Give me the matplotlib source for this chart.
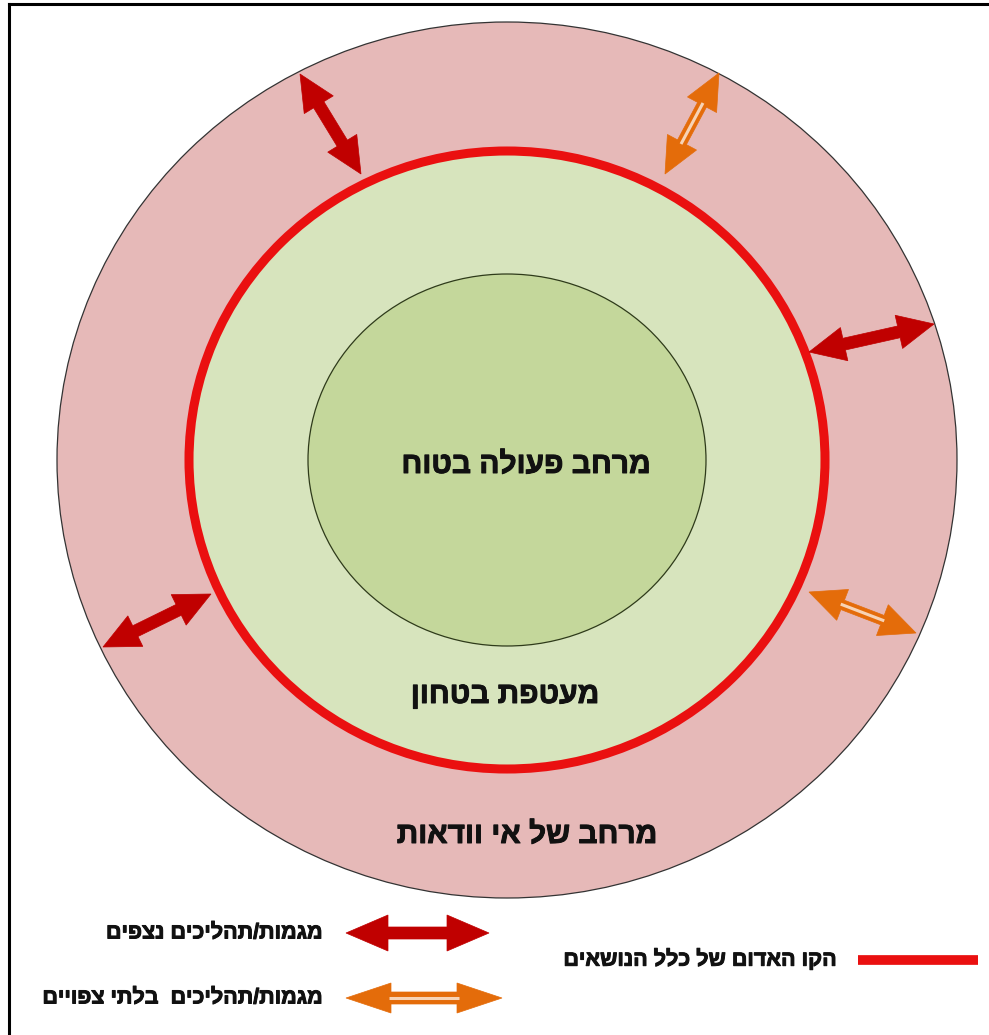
import numpy as np
import matplotlib.pyplot as plt
import matplotlib.patheffects as pe
from matplotlib.patches import Ellipse, Polygon

# geometry in image pixels (x right, y down)
center = (507, 460)
outer_radii = (450, 438)
red_radii = (318, 309)
inner_radii = (199, 186)

# double-headed arrows: (start, end)
observed_arrows = [((300, 74), (361, 174)),
                   ((934, 324), (809, 352)),
                   ((103, 647), (211, 594))]
unexpected_arrows = [((719, 73), (665, 174)),
                     ((809, 592), (916, 633))]

zone_labels = ["מרחב פעולה בטוח", "מעטפת בטחון", "מרחב של אי וודאות"]
zone_label_pos = [(526, 465), (505, 695), (527, 835)]

legend_labels = ["מגמות/תהליכים נצפים", "מגמות/תהליכים  בלתי צפויים",
                 "הקו האדום של כלל הנושאים"]

PINK = "#E6B9B8"
LIGHT_GREEN = "#D7E4BD"
GREEN = "#C4D79B"
RED_LINE = "#EA1010"
DARK_RED = "#C00000"
ORANGE = "#E46C0A"
FONT = ["Liberation Sans", "DejaVu Sans"]
BOLDER = [pe.withStroke(linewidth=0.7, foreground="#111111")]


def rtl(s):
    # matplotlib has no bidi layout, so give it the visual order
    return s[::-1]


def arrow_poly(p0, p1, w, hw, hl):
    p0 = np.array(p0, float)
    p1 = np.array(p1, float)
    u = (p1 - p0) / np.linalg.norm(p1 - p0)
    n = np.array([-u[1], u[0]])
    a = p0 + u * hl
    b = p1 - u * hl
    return [p0, a + n * hw / 2, a + n * w / 2, b + n * w / 2, b + n * hw / 2,
            p1, b - n * hw / 2, b - n * w / 2, a - n * w / 2, a - n * hw / 2]


def draw_arrow(ax, p0, p1, kind, w=12, hw=34, hl=36):
    col = DARK_RED if kind == "observed" else ORANGE
    ax.add_patch(Polygon(arrow_poly(p0, p1, w, hw, hl), closed=True,
                         facecolor=col, edgecolor=col, lw=0.5, zorder=5))
    if kind != "observed":
        p0 = np.array(p0, float)
        p1 = np.array(p1, float)
        u = (p1 - p0) / np.linalg.norm(p1 - p0)
        a = p0 + u * (hl - 2)
        b = p1 - u * (hl - 2)
        ax.plot([a[0], b[0]], [a[1], b[1]], color="#F7D3B5", lw=2.2,
                solid_capstyle="butt", zorder=6)


fig = plt.figure(figsize=(9.89, 10.35), dpi=100)
ax = fig.add_axes([0, 0, 1, 1])
ax.set_xlim(0, 989)
ax.set_ylim(1035, 0)
ax.set_aspect("equal")
ax.axis("off")

# frame (image is cropped on the right and bottom)
ax.plot([9, 989], [4, 4], color="black", lw=2.2)
ax.plot([9, 9], [4, 1035], color="black", lw=2.2)

ax.add_patch(Ellipse(center, 2 * outer_radii[0], 2 * outer_radii[1],
                     facecolor=PINK, edgecolor="#333333", lw=0.9, zorder=1))
ax.add_patch(Ellipse(center, 2 * red_radii[0], 2 * red_radii[1],
                     facecolor=LIGHT_GREEN, edgecolor=RED_LINE, lw=6.5, zorder=2))
ax.add_patch(Ellipse(center, 2 * inner_radii[0], 2 * inner_radii[1],
                     facecolor=GREEN, edgecolor="#2E3A1A", lw=0.9, zorder=3))

for p0, p1 in observed_arrows:
    draw_arrow(ax, p0, p1, "observed")
for p0, p1 in unexpected_arrows:
    draw_arrow(ax, p0, p1, "unexpected", w=10, hw=33, hl=36)

for lab, (x, y) in zip(zone_labels, zone_label_pos):
    ax.text(x, y, rtl(lab), ha="center", va="center", fontsize=21.5,
            fontweight="bold", family=FONT, color="#111111", zorder=7,
            path_effects=BOLDER)

# legend
draw_arrow(ax, (346, 933), (489, 933), "observed", w=12, hw=36, hl=42)
draw_arrow(ax, (346, 998), (502, 998), "unexpected", w=12, hw=30, hl=45)
ax.plot([858, 978], [960, 960], color=RED_LINE, lw=7, solid_capstyle="butt")

legend_text_pos = [(322, 933), (322, 998), (836, 960)]
for lab, (x, y) in zip(legend_labels, legend_text_pos):
    ax.text(x, y, rtl(lab), ha="right", va="center", fontsize=15.5,
            fontweight="bold", family=FONT, color="#111111",
            path_effects=BOLDER)

fig.savefig("out.png", dpi=100)
